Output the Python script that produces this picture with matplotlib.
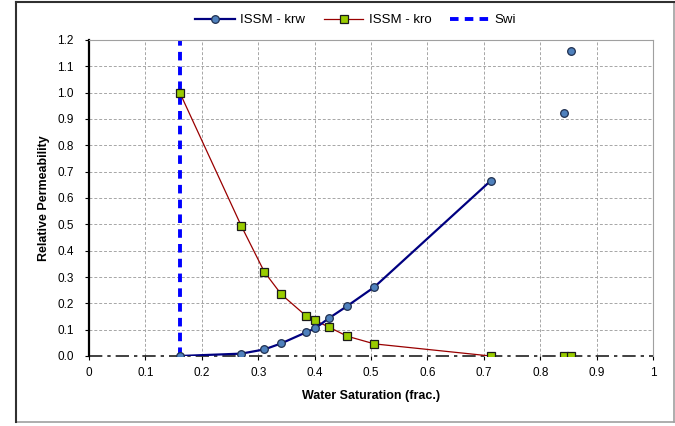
import numpy as np
import matplotlib.pyplot as plt
from matplotlib.lines import Line2D

plt.rcParams['font.family'] = ['Liberation Sans', 'DejaVu Sans']

# water saturation and relative permeabilities (gaps keep the last points unconnected)
sw = [0.161, 0.270, 0.311, 0.341, 0.385, 0.401, 0.425, 0.458, 0.506, 0.712, np.nan, 0.843, np.nan, 0.854]
krw = [0.0, 0.009, 0.025, 0.048, 0.090, 0.105, 0.143, 0.190, 0.262, 0.665, np.nan, 0.922, np.nan, 1.159]
kro = [1.0, 0.494, 0.319, 0.234, 0.152, 0.135, 0.110, 0.075, 0.046, 0.0, np.nan, 0.0, np.nan, 0.0]
swi = 0.162

x_ticks = [0, 0.1, 0.2, 0.3, 0.4, 0.5, 0.6, 0.7, 0.8, 0.9, 1.0]
x_labels = ['0', '0.1', '0.2', '0.3', '0.4', '0.5', '0.6', '0.7', '0.8', '0.9', '1']
y_ticks = [round(0.1 * i, 1) for i in range(13)]

fig = plt.figure(figsize=(6.75, 4.26), dpi=100)
ax = fig.add_axes([89 / 675, 1 - 356 / 426, 564 / 675, 316 / 426])

ax.plot(sw, krw, color='#000080', lw=1.6, marker='o', ms=5.5,
        mfc='#4F81BD', mec='#1F2F4F', mew=0.9, label='ISSM - krw', zorder=4)
ax.plot(sw, kro, color='#990000', lw=0.9, marker='s', ms=6,
        mfc='#99CC00', mec='#1A1A1A', mew=0.9, label='ISSM - kro', zorder=3)
ax.axvline(swi, color='#0000FF', lw=2.8, ls=(0, (2.2, 1.6)), label='Swi', zorder=2)

ax.set_xlim(0, 1)
ax.set_ylim(0, 1.2)
ax.set_xticks(x_ticks)
ax.set_xticklabels(x_labels)
ax.set_yticks(y_ticks)
ax.set_yticklabels(['%.1f' % v for v in y_ticks])
ax.tick_params(labelsize=8.5, length=3, width=0.8, direction='out', colors='black')
ax.tick_params(axis='y', pad=8)
ax.tick_params(axis='x', pad=5)
ax.grid(True, color='#A6A6A6', ls=(0, (3, 2)), lw=0.7)
ax.set_axisbelow(True)

ax.spines['left'].set_color('black')
ax.spines['left'].set_linewidth(1.6)
ax.spines['top'].set_color('#A0A0A0')
ax.spines['right'].set_color('#A0A0A0')
ax.spines['top'].set_linewidth(0.8)
ax.spines['right'].set_linewidth(0.8)
ax.spines['bottom'].set_visible(False)
ax.axhline(0, color='#202020', lw=1.2, ls=(0, (8, 3, 2, 3)), zorder=1, clip_on=False)

ax.set_xlabel('Water Saturation (frac.)', fontsize=9, fontweight='bold', labelpad=8)
ax.set_ylabel('Relative Permeability', fontsize=9, fontweight='bold', labelpad=5)

handles, labels = ax.get_legend_handles_labels()
fig.legend(handles, labels, loc='upper center', bbox_to_anchor=(0.527, 0.995), ncol=3,
           frameon=False, fontsize=9.5, handlelength=3.0, columnspacing=1.4, handletextpad=0.4)

# outer frame
W, H = 675, 426
fig.add_artist(Line2D([16 / W, 674 / W], [1 - 422 / H, 1 - 422 / H], transform=fig.transFigure, color='#A0A0A0', lw=1.2))
fig.add_artist(Line2D([674 / W, 674 / W], [1 - 422 / H, 1 - 2 / H], transform=fig.transFigure, color='#A0A0A0', lw=1.2))
fig.add_artist(Line2D([16 / W, 16 / W], [1 - 422 / H, 1 - 2 / H], transform=fig.transFigure, color='#303030', lw=1.5))
fig.add_artist(Line2D([16 / W, 674 / W], [1 - 2 / H, 1 - 2 / H], transform=fig.transFigure, color='#303030', lw=1.5))

fig.savefig('out.png', dpi=100)
